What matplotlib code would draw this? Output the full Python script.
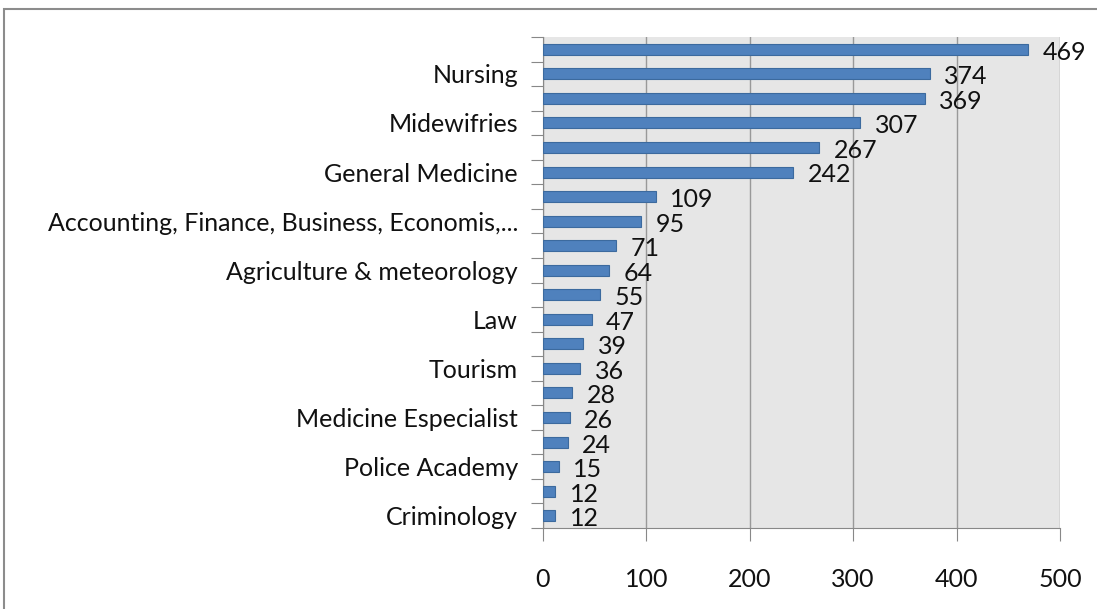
import matplotlib.pyplot as plt
from matplotlib.patches import Rectangle

plt.rcParams['font.family'] = ['Lato', 'DejaVu Sans']

# categories from top to bottom (only every other one is labelled in the original)
labels = ["", "Nursing", "", "Midewifries", "", "General Medicine", "",
          "Accounting, Finance, Business, Economis,...", "", "Agriculture & meteorology",
          "", "Law", "", "Tourism", "", "Medicine Especialist", "", "Police Academy",
          "", "Criminology"]
values = [469, 374, 369, 307, 267, 242, 109, 95, 71, 64, 55, 47, 39, 36, 28, 26, 24, 15, 12, 12]
xticks = [0, 100, 200, 300, 400, 500]

fig = plt.figure(figsize=(10.97, 6.09), dpi=100)
ax = fig.add_axes([543/1097, 1 - 528/609, (1060-543)/1097, (528-37)/609])

# outer chart border
fig.patches.append(Rectangle((4/1097, -0.1), 1.2, 1 - 9/609 + 0.1, transform=fig.transFigure,
                             fill=False, edgecolor='#8c8c8c', linewidth=1.5))

n = len(values)
ypos = [n - 1 - i for i in range(n)]
ax.barh(ypos, values, height=0.45, color='#4f81bd', edgecolor='#3c6a9e', linewidth=0.8, zorder=3)

for y, v in zip(ypos, values):
    ax.text(v + 14, y - 0.12, str(v), va='center', ha='left', fontsize=18, color='#111111', zorder=4)

ax.set_facecolor('#e6e6e6')
ax.set_xlim(0, 500)
ax.set_ylim(-0.5, n - 0.5)
ax.set_xticks(xticks)
ax.set_xticklabels([str(t) for t in xticks], fontsize=18, color='#111111')
ax.xaxis.grid(True, color='#999999', linewidth=1.0, zorder=1)

# category ticks at boundaries, labels at bar centres
ax.set_yticks([y - 0.5 for y in range(n + 1)])
ax.set_yticklabels([])
ax.set_yticks(ypos, minor=True)
ax.set_yticklabels(labels, minor=True, fontsize=18, color='#111111')
ax.tick_params(axis='y', which='minor', length=0, pad=18)
ax.tick_params(axis='y', which='major', length=9, color='#888888', direction='out')
ax.tick_params(axis='x', length=9, color='#888888', direction='out', pad=20)

for s in ['top', 'right']:
    ax.spines[s].set_visible(False)
ax.spines['left'].set_color('#888888')
ax.spines['bottom'].set_color('#888888')

fig.savefig('out.png', dpi=100)
